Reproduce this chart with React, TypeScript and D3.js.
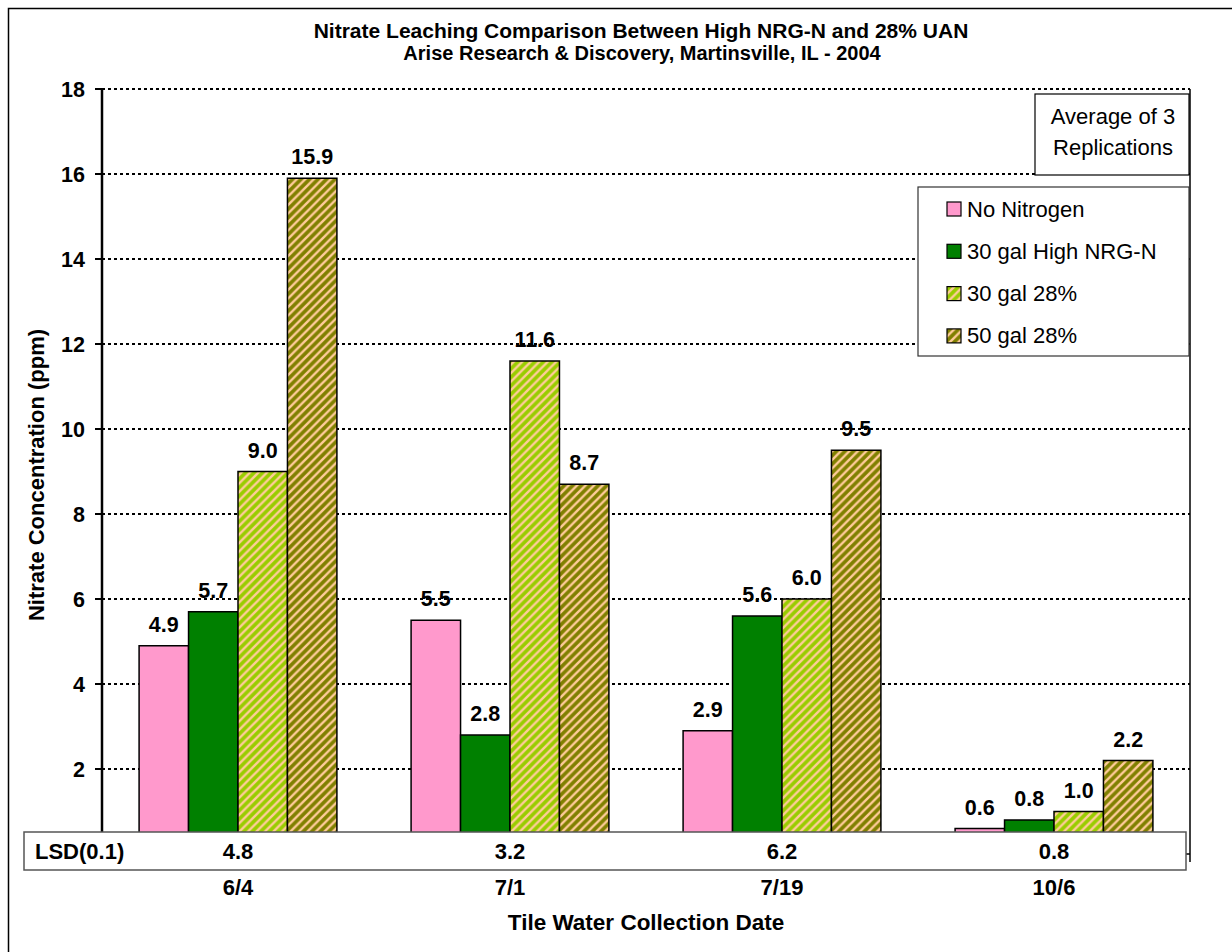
import React from "react";
import * as d3 from "d3";

const categories = ["6/4", "7/1", "7/19", "10/6"];
const seriesNames = ["No Nitrogen", "30 gal High NRG-N", "30 gal 28%", "50 gal 28%"];
const noNitrogen = [4.9, 5.5, 2.9, 0.6];
const highNRG = [5.7, 2.8, 5.6, 0.8];
const gal30uan = [9.0, 11.6, 6.0, 1.0];
const gal50uan = [15.9, 8.7, 9.5, 2.2];
const lsdValues = [4.8, 3.2, 6.2, 0.8];
const yTicks = [2, 4, 6, 8, 10, 12, 14, 16, 18];

const seriesValues = [noNitrogen, highNRG, gal30uan, gal50uan];
const fills = ["#FF99CC", "#008000", "url(#patLight)", "url(#patOlive)"];

const W = 1232;
const H = 952;
const plotL = 102;
const plotR = 1190;
const plotT = 89;
const plotB = 854;

export default function App() {
  const x = d3.scaleBand<string>().domain(categories).range([plotL, plotR]).padding(0);
  const y = d3.scaleLinear().domain([0, 18]).range([plotB, plotT]);
  const bw = x.bandwidth() / 5.5;
  const fmt = d3.format(".1f");
  const font = "Arial, 'Liberation Sans', Helvetica, sans-serif";
  const cx = (c: string) => (x(c) as number) + x.bandwidth() / 2;

  return (
    <svg width={W} height={H} style={{ position: "absolute", left: 0, top: 0, display: "block", background: "#fff" }} fontFamily={font}>
      <defs>
        <pattern id="patLight" patternUnits="userSpaceOnUse" width={8.5} height={8.5}>
          <rect width={8.5} height={8.5} fill="#99CC00" />
          <path d="M-2,2 L2,-2 M0,8.5 L8.5,0 M6.5,10.5 L10.5,6.5" stroke="#FFCC99" strokeWidth={2.4} />
        </pattern>
        <pattern id="patOlive" patternUnits="userSpaceOnUse" width={8.5} height={8.5}>
          <rect width={8.5} height={8.5} fill="#808000" />
          <path d="M-2,2 L2,-2 M0,8.5 L8.5,0 M6.5,10.5 L10.5,6.5" stroke="#FFCC99" strokeWidth={2.4} />
        </pattern>
      </defs>
      <rect x={8.5} y={8.5} width={1240} height={960} fill="#fff" stroke="#000" strokeWidth={1.5} />

      {/* Titles */}
      <text x={641} y={38} textAnchor="middle" fontWeight="bold" fontSize={21}>
        Nitrate Leaching Comparison Between High NRG-N and 28% UAN
      </text>
      <text x={642} y={60} textAnchor="middle" fontWeight="bold" fontSize={20}>
        Arise Research &amp; Discovery, Martinsville, IL - 2004
      </text>

      {/* gridlines */}
      {yTicks.map((t) => (
        <line key={"g" + t} x1={plotL} x2={plotR} y1={y(t)} y2={y(t)} stroke="#000" strokeWidth={2} strokeDasharray="3,3" />
      ))}

      {/* bars */}
      {categories.map((c, ci) => {
        const c0 = cx(c) - 2 * bw;
        return seriesValues.map((vals, si) => (
          <rect
            key={c + si}
            x={c0 + si * bw}
            y={y(vals[ci])}
            width={bw}
            height={plotB - y(vals[ci])}
            fill={fills[si]}
            stroke="#000"
            strokeWidth={1.5}
          />
        ));
      })}

      {/* data labels */}
      {categories.map((c, ci) => {
        const c0 = cx(c) - 2 * bw;
        return seriesValues.map((vals, si) => (
          <text
            key={"l" + c + si}
            x={c0 + si * bw + bw / 2}
            y={y(vals[ci]) - 14}
            textAnchor="middle"
            fontWeight="bold"
            fontSize={21.5}
          >
            {fmt(vals[ci])}
          </text>
        ));
      })}

      {/* y axis */}
      <line x1={plotL} x2={plotL} y1={plotT - 1} y2={plotB} stroke="#000" strokeWidth={2.5} />
      <line x1={plotR} x2={plotR} y1={plotT} y2={862} stroke="#000" strokeWidth={1.5} />
      <line x1={plotR - 4} x2={plotR} y1={plotB} y2={plotB} stroke="#000" strokeWidth={1.5} />
      {yTicks.map((t) => (
        <g key={"t" + t}>
          <line x1={95} x2={plotL} y1={y(t)} y2={y(t)} stroke="#000" strokeWidth={2} />
          <text x={85} y={y(t) + 7.5} textAnchor="end" fontWeight="bold" fontSize={21.5}>
            {t}
          </text>
        </g>
      ))}
      <text
        transform={`translate(44,475) rotate(-90)`}
        textAnchor="middle"
        fontWeight="bold"
        fontSize={22}
      >
        Nitrate Concentration (ppm)
      </text>

      {/* LSD table */}
      <rect x={24} y={832} width={1162} height={38} fill="#fff" stroke="#555" strokeWidth={1.5} />
      <text x={35} y={859} fontWeight="bold" fontSize={22}>
        LSD(0.1)
      </text>
      {categories.map((c, ci) => (
        <text key={"lsd" + c} x={cx(c)} y={859} textAnchor="middle" fontWeight="bold" fontSize={22}>
          {fmt(lsdValues[ci])}
        </text>
      ))}

      {/* x category labels */}
      {categories.map((c) => (
        <text key={"x" + c} x={cx(c)} y={895} textAnchor="middle" fontWeight="bold" fontSize={22}>
          {c}
        </text>
      ))}
      <text x={(plotL + plotR) / 2} y={930} textAnchor="middle" fontWeight="bold" fontSize={22.5}>
        Tile Water Collection Date
      </text>

      {/* Average note box */}
      <rect x={1035} y={94} width={154} height={81} fill="#fff" stroke="#000" strokeWidth={1.2} />
      <text x={1113} y={124} textAnchor="middle" fontSize={22}>
        Average of 3
      </text>
      <text x={1113} y={155} textAnchor="middle" fontSize={22}>
        Replications
      </text>

      {/* Legend */}
      <rect x={918} y={187} width={271} height={169} fill="#fff" stroke="#333" strokeWidth={1.2} />
      {seriesNames.map((n, i) => (
        <g key={"leg" + n}>
          <rect x={947} y={202 + i * 42.3} width={14} height={14} fill={fills[i]} stroke="#000" strokeWidth={1.2} />
          <text x={967} y={216.5 + i * 42.3} fontSize={22}>
            {n}
          </text>
        </g>
      ))}
    </svg>
  );
}
